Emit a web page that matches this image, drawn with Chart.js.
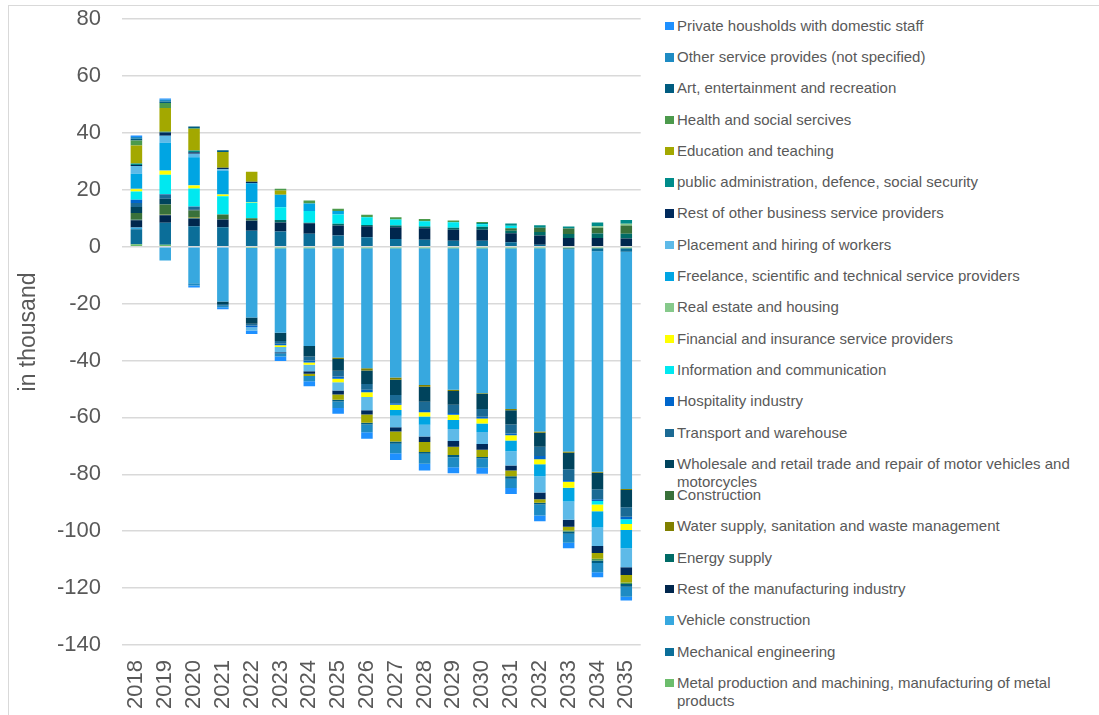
<!DOCTYPE html>
<html>
<head>
<meta charset="utf-8">
<title>Employment change by sector</title>
<script src="https://cdn.jsdelivr.net/npm/chart.js@4.4.1/dist/chart.umd.min.js"></script>
<style>
  html, body { margin: 0; padding: 0; background: #fff; }
  body { width: 1099px; height: 715px; overflow: hidden; position: relative; font-family: 'Liberation Sans', Arial, sans-serif; }
  .frame { position: absolute; left: 8px; top: 5px; width: 1300px; height: 900px; border: 1.5px solid #d9d9d9; }
  .chart-box { position: absolute; left: 0; top: 0; width: 660px; height: 715px; }
  .item { position: absolute; left: 665px; width: 432px; color: #595959; font-size: 15px; line-height: 18.5px; }
  .item .box { position: absolute; left: 0; top: 5px; width: 8.5px; height: 8.5px; }
  .item .text { padding-left: 12px; }
</style>
</head>
<body>
<div class="frame"></div>
<div class="chart-box"><canvas id="chart" width="660" height="715"></canvas></div>
<div id="legend"></div>
<script>
// Categories
const years = ['2018', '2019', '2020', '2021', '2022', '2023', '2024', '2025', '2026',
  '2027', '2028', '2029', '2030', '2031', '2032', '2033', '2034', '2035'];

// Series values (in thousand), bottom of stack first
const metalProduction = [0.8, 0.7, 0.2, -0.3, -0.5, -0.6, -0.6, -0.6, -0.6, -0.6, -0.6, -0.6, -0.6, -0.6, -0.6, -0.6, -0.6, -0.6];
const mechanicalEngineering = [5.3, 7.7, 7.0, 6.8, 5.6, 5.3, 4.5, 3.9, 3.3, 2.7, 2.4, 2.1, 2.1, 1.5, 0.7, -0.3, -1.0, -1.2];
const vehicleConstruction = [0.6, -4.9, -12.9, -19.0, -24.4, -29.7, -34.3, -38.4, -42.1, -45.4, -48.0, -49.7, -50.9, -56.5, -64.4, -71.1, -77.5, -83.4];
const restManufacturing = [2.6, 2.6, 2.6, 2.7, 3.5, 3.2, 3.7, 3.5, 3.9, 4.1, 4.1, 3.8, 3.8, 3.2, 3.2, 3.0, 3.0, 2.9];
const energySupply = [0.2, 0.2, 0.2, 0.1, 0.1, 0.9, 0.2, 0.6, 0.4, 0.6, 0.6, 0.7, 1.1, 0.9, 1.2, 1.4, 1.6, 1.6];
const waterSupply = [0.2, 0.2, 0.2, 0.1, 0, 0, 0, -0.5, -0.8, -0.8, -0.6, -0.4, -0.3, -0.4, -0.4, -0.4, -0.4, -0.3];
const construction = [2.1, 3.4, 2.5, 1.6, 0.8, 0, 0, 0, 0, 0, 0, 0, 0, 0.9, 1.5, 2.0, 2.0, 2.9];
const wholesaleRetail = [2.1, 2.0, 0.3, -0.9, -2.2, -2.9, -3.7, -4.1, -4.8, -5.3, -5.3, -4.9, -5.3, -5.0, -4.9, -5.8, -5.8, -6.1];
const transportWarehouse = [1.4, 1.5, 1.0, -0.6, -0.6, -0.9, -1.4, -2.0, -2.0, -2.9, -2.9, -2.9, -2.7, -3.2, -3.3, -3.8, -3.5, -3.3];
const hospitality = [1.2, 0.2, 0.1, 0, -0.6, -0.6, -0.7, -0.8, -0.9, -0.6, -0.8, -0.6, -0.6, -0.6, -1.1, -0.6, -0.6, -0.9];
const infoCommunication = [2.9, 6.8, 6.3, 6.4, 5.4, 4.4, 4.1, 3.3, 2.7, 2.1, 1.8, 2.0, 0.9, 0.8, 0, 0, -1.2, -1.7];
const financialInsurance = [0.8, 1.4, 1.1, 0.6, 0.2, -0.6, -0.8, -1.3, -1.6, -1.8, -1.5, -1.8, -1.8, -1.8, -1.8, -2.1, -2.4, -2.1];
const realEstate = [0.1, 0.1, 0.1, 0, 0, 0, 0, 0, 0, 0, 0, 0, 0, 0, 0, 0, 0.6, 0.6];
const freelanceScientific = [5.3, 9.7, 9.8, 8.3, 6.7, 4.4, 2.7, 1.2, 0, -2.0, -2.9, -3.2, -2.9, -3.8, -4.2, -4.9, -5.7, -6.4];
const placementHiring = [2.7, 2.5, 1.2, 0.6, -1.2, -1.8, -2.3, -2.9, -4.7, -4.1, -4.1, -4.2, -4.3, -5.0, -5.7, -6.4, -6.5, -6.7];
const restBusinessServices = [0.4, 1.1, 0.6, 0.5, 0.5, -0.4, -0.9, -1.4, -1.5, -1.5, -2.0, -2.0, -2.0, -1.8, -2.4, -2.4, -2.5, -2.7];
const publicAdministration = [0.5, 0.3, 0.6, 0, 0, 0, 0, 0, 0, 0, 0, 0, 0.4, 0.8, 0.9, 0.7, 1.3, 1.4];
const educationTeaching = [6.3, 8.3, 7.5, 5.6, 3.5, 1.5, -0.8, -1.8, -2.9, -3.5, -3.5, -2.9, -2.5, -2.0, -1.2, -1.4, -2.0, -2.6];
const healthSocial = [1.8, 1.8, 0.3, 0, 0, 0.6, 1.0, 0.8, 0.9, 0.8, 0.8, 0.6, 0.4, 0, 0, -0.3, -0.6, -0.6];
const artEntertainment = [0.6, 0.5, 0.6, 0.6, 0, 0, 0, -0.6, -0.6, -0.8, -0.6, -0.8, -0.6, -0.9, -0.6, -0.8, -0.9, -0.9];
const otherServices = [0.6, 0.6, -0.8, -0.5, 0, -1.1, -1.8, -2.3, -2.7, -3.3, -3.5, -3.5, -3.2, -3.2, -3.9, -3.2, -3.2, -3.5];
const privateHouseholds = [0.6, 0.5, -0.7, -0.7, -1.2, -1.6, -1.8, -2.0, -2.3, -2.4, -2.4, -2.1, -2.1, -2.1, -2.0, -1.9, -1.8, -1.4];

// Y axis ticks
const yTicks = [-140, -120, -100, -80, -60, -40, -20, 0, 20, 40, 60, 80];

const series = [
  { label: 'Metal production and machining, manufacturing of metal products', data: metalProduction, color: '#6cbd6c' },
  { label: 'Mechanical engineering', data: mechanicalEngineering, color: '#0b6e99' },
  { label: 'Vehicle construction', data: vehicleConstruction, color: '#37a8df' },
  { label: 'Rest of the manufacturing industry', data: restManufacturing, color: '#00264d' },
  { label: 'Energy supply', data: energySupply, color: '#006b66' },
  { label: 'Water supply, sanitation and waste management', data: waterSupply, color: '#808000' },
  { label: 'Construction', data: construction, color: '#39713a' },
  { label: 'Wholesale and retail trade and repair of motor vehicles and motorcycles', data: wholesaleRetail, color: '#00435c' },
  { label: 'Transport and warehouse', data: transportWarehouse, color: '#1b6a94' },
  { label: 'Hospitality industry', data: hospitality, color: '#0066cc' },
  { label: 'Information and communication', data: infoCommunication, color: '#00e8f0' },
  { label: 'Financial and insurance service providers', data: financialInsurance, color: '#ffff00' },
  { label: 'Real estate and housing', data: realEstate, color: '#86c98b' },
  { label: 'Freelance, scientific and technical service providers', data: freelanceScientific, color: '#00a5e3' },
  { label: 'Placement and hiring of workers', data: placementHiring, color: '#5ebae8' },
  { label: 'Rest of other business service providers', data: restBusinessServices, color: '#002a5c' },
  { label: 'public administration, defence, social security', data: publicAdministration, color: '#008c8a' },
  { label: 'Education and teaching', data: educationTeaching, color: '#a3a800' },
  { label: 'Health and social sercives', data: healthSocial, color: '#4c9a4c' },
  { label: 'Art, entertainment and recreation', data: artEntertainment, color: '#005c80' },
  { label: 'Other service provides (not specified)', data: otherServices, color: '#1e8bc3' },
  { label: 'Private housholds with domestic staff', data: privateHouseholds, color: '#1e90ff' }
];

const textColor = '#595959';
const fontFamily = "'Liberation Sans', Arial, sans-serif";

const datasets = series.map((s) => ({
  label: s.label,
  data: s.data,
  backgroundColor: s.color,
  borderWidth: 0,
  categoryPercentage: 0.8,
  barPercentage: 0.5
}));

new Chart(document.getElementById('chart'), {
  type: 'bar',
  data: { labels: years, datasets },
  options: {
    responsive: false,
    animation: false,
    layout: { padding: { top: 19, right: 11, bottom: 0, left: 0 } },
    plugins: {
      legend: { display: false },
      tooltip: { enabled: false }
    },
    scales: {
      x: {
        stacked: true,
        grid: { display: false },
        border: { display: false },
        ticks: {
          color: textColor,
          font: { size: 22, family: fontFamily },
          minRotation: 90,
          maxRotation: 90,
          autoSkip: false,
          padding: 7
        },
        afterFit: (scale) => { scale.height = 70; }
      },
      y: {
        stacked: true,
        min: yTicks[0],
        max: yTicks[yTicks.length - 1],
        afterBuildTicks: (scale) => { scale.ticks = yTicks.map((v) => ({ value: v })); },
        ticks: {
          color: textColor,
          font: { size: 22, family: fontFamily },
          padding: 3
        },
        grid: {
          color: '#d9d9d9',
          lineWidth: 1.5,
          drawTicks: true,
          tickLength: 18,
          tickColor: 'rgba(0,0,0,0)'
        },
        border: { display: false },
        title: {
          display: true,
          text: 'in thousand',
          color: textColor,
          font: { size: 23, family: fontFamily },
          padding: { top: 15, bottom: 0 }
        },
        afterFit: (scale) => { scale.width = 122; }
      }
    }
  }
});

// Legend on the right, top item is the last series (like the original)
const legend = document.getElementById('legend');
series.slice().reverse().forEach((s, i) => {
  const item = document.createElement('div');
  item.className = 'item';
  item.style.top = (26 + i * 31.29 - 9.25) + 'px';
  item.innerHTML = '<span class="box" style="background:' + s.color + '"></span><div class="text"></div>';
  item.querySelector('.text').textContent = s.label;
  legend.appendChild(item);
});
</script>
</body>
</html>
